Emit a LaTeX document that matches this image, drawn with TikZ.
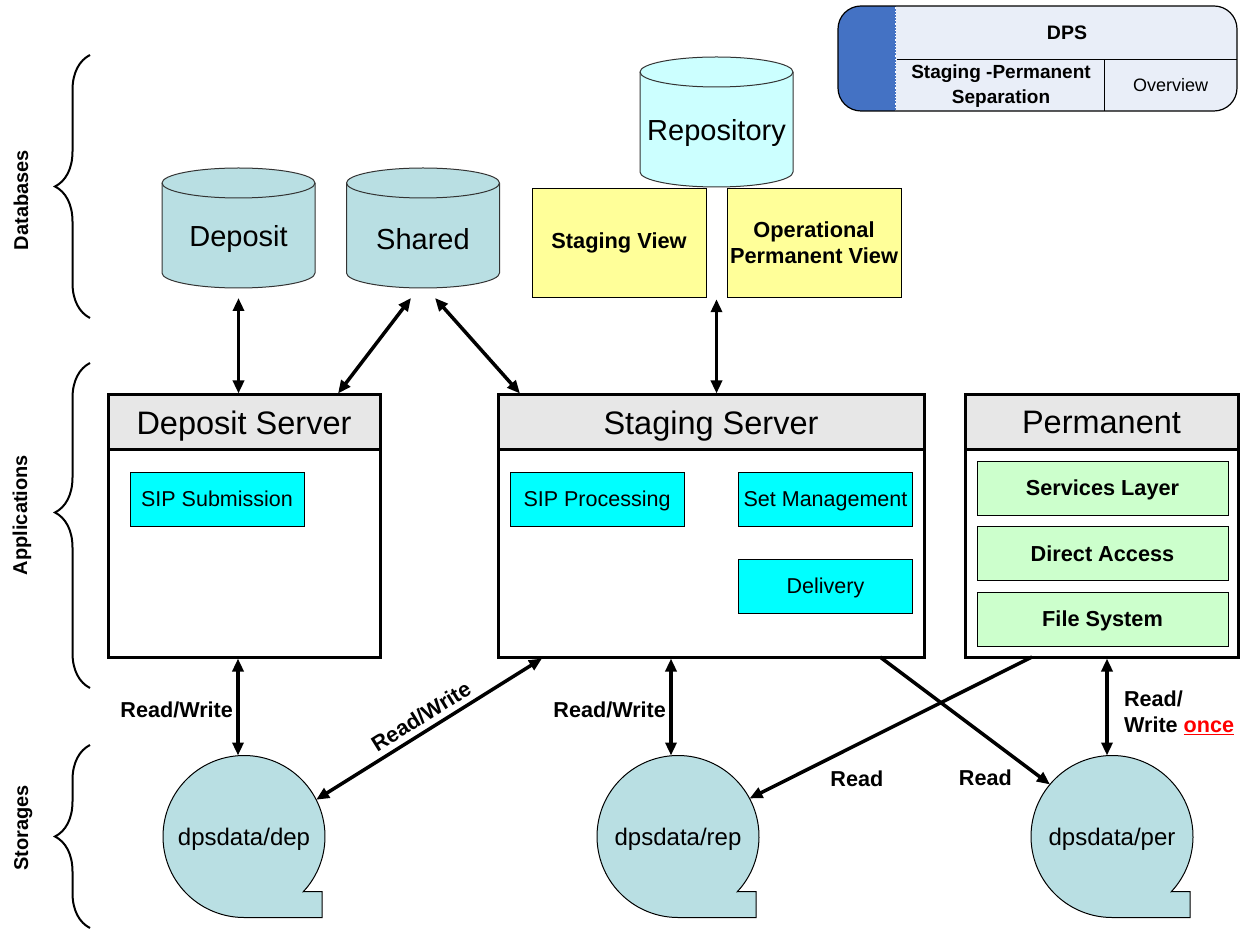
\documentclass[tikz,border=0pt]{standalone}
\usepackage{fontspec}
\setmainfont{Liberation Sans}
\usetikzlibrary{positioning, arrows.meta, decorations.pathreplacing, backgrounds}

\definecolor{dbteal}{RGB}{185,223,227}
\definecolor{repocyan}{RGB}{204,255,255}
\definecolor{viewyellow}{RGB}{255,255,153}
\definecolor{appcyan}{RGB}{0,255,255}
\definecolor{layergreen}{RGB}{204,255,204}
\definecolor{headgray}{RGB}{231,231,231}
\definecolor{titleblue}{RGB}{68,114,196}
\definecolor{titlelight}{RGB}{233,238,248}

\begin{document}
\begin{tikzpicture}[
      x=1pt, y=1pt,
      dbcyl/.style={rectangle, minimum width=153pt, minimum height=120pt, inner sep=0pt, outer sep=0pt},
      dbline/.style={draw=black!80, line width=1pt},
      dblabel/.style={font=\fontsize{29}{33}\selectfont},
      view/.style={rectangle, draw, fill=viewyellow, minimum width=174pt, minimum height=109pt, align=center, inner sep=1pt, font=\bfseries\fontsize{21.8}{26}\selectfont},
      server/.style={rectangle, draw, line width=3pt, fill=white, minimum height=262pt, outer sep=0pt},
      srvhead/.style={rectangle, draw, line width=3pt, fill=headgray, minimum height=55pt, anchor=north, outer sep=0pt, text depth=0pt, font=\fontsize{32.5}{36}\selectfont},
      module/.style={rectangle, draw, fill=appcyan, minimum width=174pt, minimum height=54pt, text depth=0pt, font=\fontsize{21.5}{24}\selectfont},
      layer/.style={rectangle, draw, fill=layergreen, minimum width=251pt, minimum height=54pt, text depth=0pt, font=\bfseries\fontsize{21.7}{24}\selectfont},
      store/.style={circle, minimum size=162pt, inner sep=0pt, outer sep=0pt, text depth=0pt, font=\fontsize{24}{28}\selectfont},
      storeshape/.style={draw, fill=dbteal, line width=1pt},
      dblarrow/.style={{Triangle[length=13pt,width=11pt]}-{Triangle[length=13pt,width=11pt]}, line width=3.5pt},
      onearrow/.style={-{Triangle[length=13pt,width=11pt]}, line width=3.5pt},
      rwlabel/.style={font=\bfseries\fontsize{21.6}{26}\selectfont},
      layerlabel/.style={rotate=90, anchor=base, font=\bfseries\fontsize{20}{24}\selectfont},
      layerbrace/.style={decorate, decoration={brace, amplitude=35pt}, line width=2pt}
      ]
      
      \useasboundingbox (0,0) rectangle (1241,930);
      
      % Title block
      \begin{scope}
        \clip[rounded corners=23pt] (838,819) rectangle (1237,924);
        \fill[titlelight] (838,819) rectangle (1237,924);
        \fill[titleblue] (838,819) rectangle (896,924);
      \end{scope}
      \draw[white, dotted, line width=1.2pt] (895.5,819) -- (895.5,924);
      \draw (897,871) -- (1237,871);
      \draw (1104,819) -- (1104,871);
      \draw[line width=1.2pt, rounded corners=23pt] (838,819) rectangle (1237,924);
      \node[font=\bfseries\fontsize{19.5}{22}\selectfont] (dps) at (1067,897.5) {DPS};
      \node[font=\bfseries\fontsize{19}{25}\selectfont, align=center] (sps) at (1001,844) {Staging -Permanent\\Separation};
      \node[font=\fontsize{18}{22}\selectfont] (ovw) at (1170.5,845) {Overview};
      
      % Layers
      \node[layerlabel] (dblbl) at (28,730) {Databases};
      \node[layerlabel] (applbl) at (27,415) {Applications};
      \node[layerlabel] (stolbl) at (28,102) {Storages};
      \draw[layerbrace] (90,612) -- (90,875);
      \draw[layerbrace, decoration={aspect=0.54}] (90,242) -- (90,567);
      \draw[layerbrace] (90,2) -- (90,185);
      
      % Databases
      \node[dbcyl] (depdb) at (238.5,702) {};
      \node[dbcyl] (shareddb) at (423,702) {};
      \node[dbcyl, minimum height=130pt] (repo) at (716.5,808) {};
      \begin{scope}[on background layer]
        \foreach \c/\col in {depdb/dbteal, shareddb/dbteal, repo/repocyan} {
          \draw[dbline, fill=\col] ([yshift=-15]\c.north west) -- ([yshift=15]\c.south west)
            arc[start angle=180, end angle=360, x radius=76.5, y radius=15]
            -- ([yshift=-15]\c.north east)
            arc[start angle=0, end angle=180, x radius=76.5, y radius=15] -- cycle;
          \draw[dbline] ([yshift=-15]\c.north west) arc[start angle=180, end angle=360, x radius=76.5, y radius=15];
        }
      \end{scope}
      \node[dblabel] (depdb-txt) at (238.5,691) {Deposit};
      \node[dblabel] (shareddb-txt) at (423,691) {Shared};
      \node[dblabel] (repo-txt) at (716.5,797) {Repository};
      \node[view] (stgview) at (619,687.5) {Staging View};
      \node[view] (opview) at (814,687.5) {Operational\\Permanent View};
      
      % Servers
      \node[server, minimum width=272pt] (depsrv) at (244,404) {};
      \node[srvhead, minimum width=272pt] (depsrv-head) at (depsrv.north) {Deposit Server};
      \node[server, minimum width=426pt] (stgsrv) at (711,404) {};
      \node[srvhead, minimum width=426pt] (stgsrv-head) at (stgsrv.north) {Staging Server};
      \node[server, minimum width=273pt] (perm) at (1101.5,404) {};
      \node[srvhead, minimum width=273pt] (perm-head) at (perm.north) {Permanent};
      
      % Modules
      \node[module] (sipsub) at (217,431) {SIP Submission};
      \node[module] (sipproc) at (597,431) {SIP Processing};
      \node[module] (setmgmt) at (825.5,431) {Set Management};
      \node[module] (delivery) at (825.5,344) {Delivery};
      \node[layer] (services) at (1102.5,442) {Services Layer};
      \node[layer] (direct) at (1102.5,376.5) {Direct Access};
      \node[layer] (filesys) at (1102.5,311) {File System};
      
      % Storages
      \node[store] (depsto) at (244,93.5) {dpsdata/dep};
      \node[store] (repsto) at (678,93.5) {dpsdata/rep};
      \node[store] (persto) at (1112,93.5) {dpsdata/per};
      \begin{scope}[on background layer]
        \foreach \s in {depsto, repsto, persto}
          \draw[storeshape] (\s.-43) arc[start angle=-43, end angle=270, radius=81] -- ++(78,0) -- ++(0,26) -- cycle;
      \end{scope}
      
      % Arrows
      \draw[dblarrow, shorten <=10pt, shorten >=1.5pt] (depdb.south) -- (depdb.south |- depsrv.north);
      \draw[dblarrow] ([xshift=-12,yshift=-10]shareddb.south) -- ([xshift=94,yshift=1.5]depsrv.north);
      \draw[dblarrow] ([xshift=12,yshift=-10]shareddb.south) -- ([xshift=22,yshift=1.5]stgsrv.north west);
      \draw[dblarrow, shorten <=2pt, shorten >=1.5pt] (repo.south |- stgview.south) -- (repo.south |- stgsrv.north);
      \draw[dblarrow, shorten <=1.5pt] ([xshift=-6]depsto.north |- depsrv.south) -- ([xshift=-6]depsto.north) node[midway, left, yshift=-4pt, rwlabel] {Read/Write};
      \draw[dblarrow] (depsto.27) -- ([xshift=44,yshift=-1.5]stgsrv.south west) node[midway, sloped, above=2pt, rwlabel] {Read/Write};
      \draw[dblarrow, shorten <=1.5pt] ([xshift=-7]repsto.north |- stgsrv.south) -- ([xshift=-7]repsto.north) node[midway, left, yshift=-4pt, rwlabel] {Read/Write};
      \draw[onearrow] ([xshift=67]perm.south west) -- (repsto.28) node[pos=0.62, below=21pt, rwlabel] {Read};
      \draw[onearrow] ([xshift=-44]stgsrv.south east) -- (persto.140) node[pos=0.62, below=29pt, rwlabel] {Read};
      \draw[dblarrow, shorten <=1.5pt] ([xshift=-5]persto.north |- perm.south) -- ([xshift=-5]persto.north) node[midway, right=12pt, yshift=-7pt, rwlabel, align=left] {Read/\\Write \textcolor{red}{\underline{once}}};
      
\end{tikzpicture}
\end{document}
